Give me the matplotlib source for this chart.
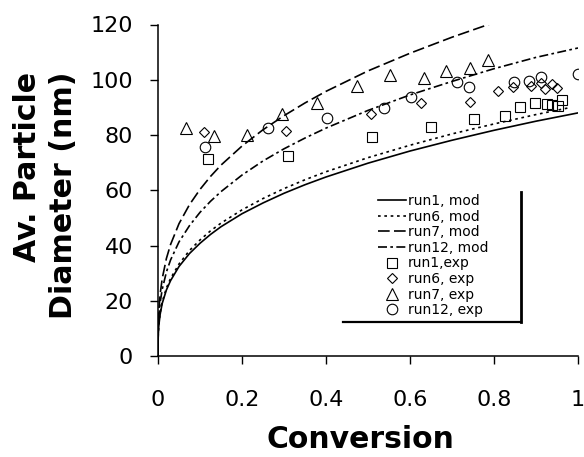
import matplotlib
matplotlib.use("Agg")
import matplotlib.pyplot as plt
from matplotlib.lines import Line2D

# model curves, read at fixed conversion values
conv_mod = [0, 0.0005, 0.001, 0.002, 0.005, 0.01, 0.02, 0.03, 0.05, 0.075, 0.1, 0.125,
            0.15, 0.2, 0.25, 0.3, 0.35, 0.4, 0.5, 0.6, 0.7, 0.8, 0.9, 1.0]
run1_mod = [0, 7.0, 8.8, 11.1, 15.0, 19.0, 23.9, 27.3, 32.4, 37.1, 40.8, 44.0,
            46.8, 51.5, 55.4, 58.9, 62.0, 64.8, 69.8, 74.2, 78.1, 81.7, 85.0, 88.0]
conv_run6 = conv_mod[:-1] + [0.98]
run6_mod = [0, 7.2, 9.1, 11.4, 15.5, 19.5, 24.6, 28.1, 33.3, 38.2, 42.0, 45.3,
            48.1, 52.9, 57.0, 60.6, 63.8, 66.7, 71.8, 76.3, 80.4, 84.0, 87.4, 89.9]
conv_run7 = conv_mod[:22]
run7_mod = [0, 10.3, 13.0, 16.4, 22.2, 28.0, 35.3, 40.4, 47.9, 54.8, 60.3, 65.0,
            69.1, 76.0, 81.9, 87.0, 91.6, 95.8, 103.2, 109.6, 115.4, 120.7]
run12_mod = [0, 8.9, 11.2, 14.1, 19.2, 24.1, 30.4, 34.8, 41.3, 47.2, 52.0, 56.0,
             59.5, 65.5, 70.6, 75.0, 78.9, 82.5, 88.9, 94.5, 99.4, 104.0, 108.1, 111.5]

# experimental points
run1_x = [0.12, 0.31, 0.509, 0.649, 0.752, 0.826, 0.862, 0.898, 0.927, 0.937, 0.953, 0.961]
run1_y = [71.2, 72.5, 79.4, 83.0, 85.7, 86.9, 90.2, 91.7, 91.3, 91.0, 90.6, 92.7]
run6_x = [0.11, 0.304, 0.506, 0.625, 0.743, 0.81, 0.846, 0.889, 0.911, 0.921, 0.937, 0.949]
run6_y = [81.0, 81.6, 87.6, 91.5, 92.1, 96.0, 97.2, 97.8, 99.0, 96.6, 98.5, 96.9]
run7_x = [0.067, 0.133, 0.211, 0.295, 0.378, 0.474, 0.552, 0.633, 0.686, 0.744, 0.785]
run7_y = [82.5, 79.6, 80.0, 87.6, 91.5, 97.8, 101.7, 100.5, 103.3, 104.3, 107.0]
run12_x = [0.112, 0.263, 0.402, 0.539, 0.602, 0.713, 0.741, 0.848, 0.884, 0.911, 1.0]
run12_y = [75.8, 82.4, 86.0, 89.9, 93.9, 99.1, 97.5, 99.3, 99.7, 101.1, 102.1]

fig = plt.figure(figsize=(5.84, 4.57), dpi=100)
ax = fig.add_axes([158 / 584, 1 - 356 / 457, 420 / 584, 331.5 / 457])

lw = 1.2
ax.plot(conv_mod, run1_mod, color='black', lw=lw, label='run1, mod')
ax.plot(conv_run6, run6_mod, color='black', lw=lw, dashes=(1.6, 2.2), label='run6, mod')
ax.plot(conv_run7, run7_mod, color='black', lw=lw, dashes=(7.0, 2.6), label='run7, mod')
ax.plot(conv_mod, run12_mod, color='black', lw=lw, dashes=(5.4, 2.0, 1.6, 2.0), label='run12, mod')

mk = dict(linestyle='none', markerfacecolor='none', markeredgecolor='black', markeredgewidth=0.8)
ax.plot(run1_x, run1_y, marker='s', markersize=7.2, label='run1,exp', **mk)
ax.plot(run6_x, run6_y, marker='D', markersize=5.0, label='run6, exp', **mk)
ax.plot(run7_x, run7_y, marker='^', markersize=8.5, label='run7, exp', **mk)
ax.plot(run12_x, run12_y, marker='o', markersize=7.6, label='run12, exp', **mk)

ax.set_xlim(0, 1)
ax.set_ylim(0, 120)
ax.set_xticks([0, 0.2, 0.4, 0.6, 0.8, 1.0])
ax.set_xticklabels(['0', '0.2', '0.4', '0.6', '0.8', '1'])
ax.set_yticks(range(0, 121, 20))
for s in ['top', 'right']:
    ax.spines[s].set_visible(False)
for s in ['left', 'bottom']:
    ax.spines[s].set_linewidth(1.1)
ax.tick_params(axis='x', length=6, width=1, pad=18.5, labelsize=16)
ax.tick_params(axis='y', length=6, width=1, pad=12, labelsize=16)

ax.set_xlabel('Conversion', fontsize=21.5, fontweight='bold', va='top')
ax.xaxis.set_label_coords(0.482, -0.208)
ax.set_ylabel('Av. Particle\nDiameter (nm)', fontsize=21.6, fontweight='bold',
              multialignment='right', linespacing=1.3)
ax.yaxis.set_label_coords(-0.19, 0.485)

leg = ax.legend(loc='upper left', bbox_to_anchor=(378 / 584, 1 - 194 / 457),
                bbox_transform=fig.transFigure, frameon=False, fontsize=10,
                borderpad=0, borderaxespad=0, handlelength=2.0, handletextpad=0.15,
                labelspacing=0.115, numpoints=1)

# shadowed right and bottom edge of the legend box
fig.add_artist(Line2D([521 / 584, 521 / 584], [1 - 192 / 457, 1 - 322 / 457],
                      transform=fig.transFigure, color='black', lw=2))
fig.add_artist(Line2D([343 / 584, 521 / 584], [1 - 322 / 457, 1 - 322 / 457],
                      transform=fig.transFigure, color='black', lw=1.6))

fig.savefig('out.png', dpi=100)
